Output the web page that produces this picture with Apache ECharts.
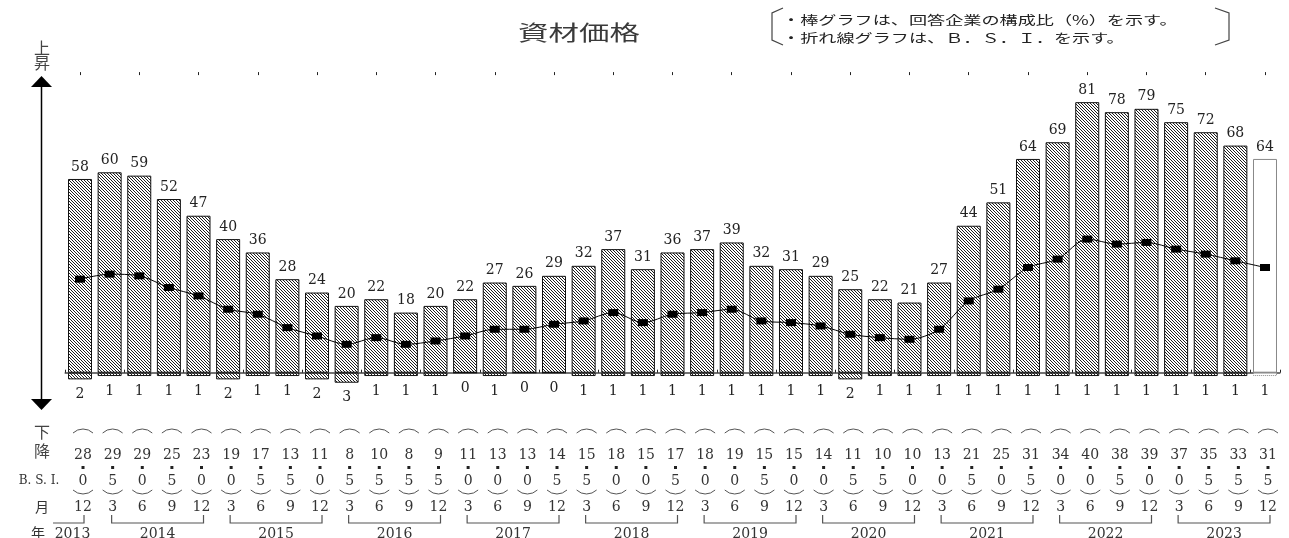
<!DOCTYPE html>
<html><head><meta charset="utf-8">
<script src="https://cdn.jsdelivr.net/npm/echarts@6/dist/echarts.min.js"></script>
<style>html,body{margin:0;padding:0;background:#fff}#c{width:1289px;height:538px}</style>
</head><body><div id="c"></div>
<script>
// ---- data ----
const categories = ['2013.12',
  '2014.3','2014.6','2014.9','2014.12',
  '2015.3','2015.6','2015.9','2015.12',
  '2016.3','2016.6','2016.9','2016.12',
  '2017.3','2017.6','2017.9','2017.12',
  '2018.3','2018.6','2018.9','2018.12',
  '2019.3','2019.6','2019.9','2019.12',
  '2020.3','2020.6','2020.9','2020.12',
  '2021.3','2021.6','2021.9','2021.12',
  '2022.3','2022.6','2022.9','2022.12',
  '2023.3','2023.6','2023.9','2023.12'];
const upShare = [58,60,59,52,47,40,36,28,24,20,22,18,20,22,27,26,29,32,37,31,36,37,39,32,31,29,25,22,21,27,44,51,64,69,81,78,79,75,72,68,64];
const downShare = [2,1,1,1,1,2,1,1,2,3,1,1,1,0,1,0,0,1,1,1,1,1,1,1,1,1,2,1,1,1,1,1,1,1,1,1,1,1,1,1,1];
const bsi = [28.0,29.5,29.0,25.5,23.0,19.0,17.5,13.5,11.0,8.5,10.5,8.5,9.5,11.0,13.0,13.0,14.5,15.5,18.0,15.0,17.5,18.0,19.0,15.5,15.0,14.0,11.5,10.5,10.0,13.0,21.5,25.0,31.5,34.0,40.0,38.5,39.0,37.0,35.5,33.5,31.5];
const forecastIndex = 40;

// ---- derived ----
const months = categories.map(c => c.split('.')[1]);
const yearGroups = [];
categories.forEach((c, i) => {
  const y = c.split('.')[0];
  const last = yearGroups[yearGroups.length - 1];
  if (last && last.label === y) last.end = i; else yearGroups.push({label: y, start: i, end: i});
});

function hatch() {
  const n = 3;
  const c = document.createElement('canvas');
  c.width = n; c.height = n;
  const g = c.getContext('2d');
  g.fillStyle = '#fff'; g.fillRect(0, 0, n, n);
  g.fillStyle = '#1e1e1e';
  for (let i = 0; i < n; i++) g.fillRect(i, i, 1, 1);
  return c;
}
const hatchFill = {image: hatch(), repeat: 'repeat'};
const NUM_FONT = '"DejaVu Serif", "Liberation Serif", serif';
const JP_FONT = '"Noto Sans CJK JP", "Noto Sans", sans-serif';

const barItem = (v, i, sign) => {
  const d = {value: sign * v};
  if (i === forecastIndex) d.itemStyle = {color: '#fff', borderColor: '#888', borderType: sign > 0 ? 'solid' : 'dotted'};
  return d;
};

const chart = echarts.init(document.getElementById('c'), null, {renderer: 'canvas'});

const TG_Y = 401; // table grid axis y
const rowAxis = (off, fmt) => ({
  type: 'category', gridIndex: 1, data: categories, position: 'bottom', offset: off,
  axisLine: {show: false}, axisTick: {show: false},
  axisLabel: {show: true, interval: 0, margin: 0, verticalAlign: 'middle', fontFamily: NUM_FONT, fontSize: 14, color: '#333',
    formatter: (v, i) => fmt(i)}
});

function renderDeco(params, api) {
  const x = api.coord([api.value(0), 0])[0];
  const r = 14.5, th = Math.asin(10 / r);
  return {type: 'group', children: [
    {type: 'arc', shape: {cx: x, cy: 429 + r, r: r, startAngle: -Math.PI / 2 - th, endAngle: -Math.PI / 2 + th}, style: {stroke: '#555', fill: null, lineWidth: 1}},
    {type: 'rect', shape: {x: x - 1.5, y: 466, width: 3, height: 3}, style: {fill: '#222'}},
    {type: 'arc', shape: {cx: x, cy: 494 - r, r: r, startAngle: Math.PI / 2 - th, endAngle: Math.PI / 2 + th}, style: {stroke: '#555', fill: null, lineWidth: 1}}
  ]};
}
function renderYear(params, api) {
  const g = yearGroups[params.dataIndex];
  const xs = api.coord([g.start, 0])[0], xe = api.coord([g.end, 0])[0];
  const yl = 523, yt = 515;
  let x1, x2, pts;
  if (g.start === g.end) { x1 = xs - 30; x2 = xs + 1; pts = [[x1, yl], [x2, yl], [x2, yt]]; }
  else { x1 = xs - 1; x2 = xe + 2; pts = [[x1, yt], [x1, yl], [x2, yl], [x2, yt]]; }
  return {type: 'group', children: [
    {type: 'polyline', shape: {points: pts}, style: {stroke: '#555', lineWidth: 1.2, fill: null}},
    {type: 'text', style: {text: g.label, x: (x1 + x2) / 2 + (g.start === g.end ? 4 : 0), y: 534, align: 'center', verticalAlign: 'middle', font: '14px ' + NUM_FONT, fill: '#333'}}
  ]};
}

const option = {
  animation: false,
  backgroundColor: '#fff',
  grid: [
    {left: 65.2, right: 9.2, top: 72.1, height: 334},
    {left: 68.2, right: 6.2, top: TG_Y - 2, height: 2}
  ],
  xAxis: [
    {type: 'category', gridIndex: 0, data: categories,
      axisLine: {onZero: true, lineStyle: {color: '#444', width: 1.5}},
      axisTick: {show: true, inside: true, length: 3, lineStyle: {color: '#222'}},
      axisLabel: {show: false}},
    {type: 'category', gridIndex: 0, data: categories,
      axisLine: {show: false, onZero: true},
      axisTick: {show: true, inside: true, alignWithLabel: true, length: 3, lineStyle: {color: '#222'}},
      axisLabel: {show: false}},
    rowAxis(455 - TG_Y, i => String(Math.floor(bsi[i]))),
    rowAxis(481 - TG_Y, i => String(Math.round((bsi[i] - Math.floor(bsi[i])) * 10))),
    rowAxis(507 - TG_Y, i => months[i])
  ],
  yAxis: [
    {type: 'value', gridIndex: 0, min: -10, max: 90, show: false},
    {type: 'value', gridIndex: 1, min: 0, max: 1, show: false}
  ],
  series: [
    {type: 'bar', name: '上昇', xAxisIndex: 0, yAxisIndex: 0, barWidth: 24, barGap: '-100%',
      data: upShare.map((v, i) => barItem(v, i, 1)),
      itemStyle: {color: hatchFill, borderColor: '#111', borderWidth: 1},
      label: {show: true, position: 'top', distance: 5, fontFamily: NUM_FONT, fontSize: 14, color: '#222'}},
    {type: 'bar', name: '下降', xAxisIndex: 0, yAxisIndex: 0, barWidth: 24, barGap: '-100%',
      data: downShare.map((v, i) => barItem(v, i, -1)),
      itemStyle: {color: hatchFill, borderColor: '#111', borderWidth: 1},
      label: {show: true, position: 'bottom', distance: 8, fontFamily: NUM_FONT, fontSize: 14, color: '#222',
        formatter: p => String(Math.abs(p.value))}},
    {type: 'line', name: 'B.S.I.', xAxisIndex: 0, yAxisIndex: 0, data: bsi, smooth: 0.3, z: 5,
      symbol: 'rect', symbolSize: [10, 7], showAllSymbol: true,
      lineStyle: {color: '#000', width: 1}, itemStyle: {color: '#000'}},
    {type: 'custom', xAxisIndex: 2, yAxisIndex: 1, clip: false, renderItem: renderDeco,
      data: categories.map((c, i) => [i, 0])},
    {type: 'custom', xAxisIndex: 2, yAxisIndex: 1, clip: false, renderItem: renderYear,
      data: yearGroups.map(g => [g.start, 0])}
  ],
  graphic: [
    {type: 'line', shape: {x1: 41.5, y1: 86, x2: 41.5, y2: 400}, style: {stroke: '#000', lineWidth: 1.5}},
    {type: 'polygon', shape: {points: [[31, 87], [52, 87], [41.5, 76]]}, style: {fill: '#000'}},
    {type: 'polygon', shape: {points: [[31, 399], [52, 399], [41.5, 410]]}, style: {fill: '#000'}},
    {type: 'text', style: {text: '上', x: 42, y: 48, align: 'center', verticalAlign: 'middle', font: '16px ' + JP_FONT, fill: '#444'}},
    {type: 'text', style: {text: '昇', x: 42, y: 63, align: 'center', verticalAlign: 'middle', font: '16px ' + JP_FONT, fill: '#444'}},
    {type: 'text', style: {text: '下', x: 42, y: 432, align: 'center', verticalAlign: 'middle', font: '16px ' + JP_FONT, fill: '#444'}},
    {type: 'text', style: {text: '降', x: 42, y: 451, align: 'center', verticalAlign: 'middle', font: '16px ' + JP_FONT, fill: '#444'}},
    {type: 'text', style: {text: 'B. S. I.', x: 39, y: 481, align: 'center', verticalAlign: 'middle', font: '12px ' + NUM_FONT, fill: '#333'}},
    {type: 'text', style: {text: '月', x: 42, y: 507, align: 'center', verticalAlign: 'middle', font: '14px ' + JP_FONT, fill: '#333'}},
    {type: 'text', style: {text: '年', x: 38, y: 533, align: 'center', verticalAlign: 'middle', font: '14px ' + JP_FONT, fill: '#333'}},
    {type: 'text', x: 579, y: 32, scaleX: 1.45, style: {text: '資材価格', x: 0, y: 0, align: 'center', verticalAlign: 'middle', font: '21px ' + JP_FONT, fill: '#3a3a3a'}},
    {type: 'polyline', shape: {points: [[783, 8], [772, 13], [772, 40], [783, 45]]}, style: {stroke: '#444', lineWidth: 1.2, fill: null}},
    {type: 'polyline', shape: {points: [[1215, 8], [1229, 13], [1229, 40], [1215, 45]]}, style: {stroke: '#444', lineWidth: 1.2, fill: null}},
    {type: 'text', x: 782, y: 20, scaleX: 1.45, style: {text: '・棒グラフは、回答企業の構成比（%）を示す。', x: 0, y: 0, align: 'left', verticalAlign: 'middle', font: '12.5px ' + JP_FONT, fill: '#222'}},
    {type: 'text', x: 782, y: 38, scaleX: 1.45, style: {text: '・折れ線グラフは、Ｂ．Ｓ．Ｉ．を示す。', x: 0, y: 0, align: 'left', verticalAlign: 'middle', font: '12.5px ' + JP_FONT, fill: '#222'}}
  ]
};
chart.setOption(option);
</script></body></html>
